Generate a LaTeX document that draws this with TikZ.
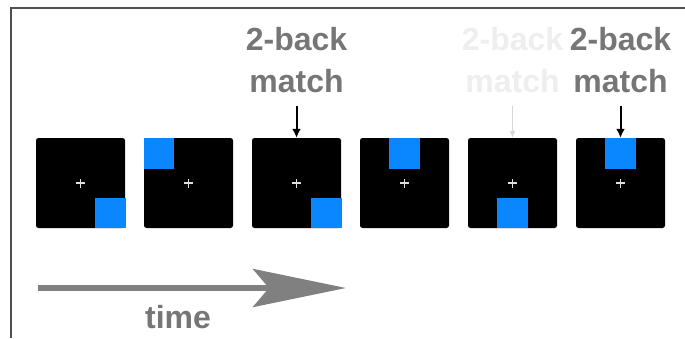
\documentclass[tikz,border=0pt]{standalone}
\usepackage{fontspec}
\setmainfont{Liberation Sans}
\usetikzlibrary{arrows.meta}
\definecolor{stimblue}{RGB}{10,134,255}
\definecolor{labgray}{RGB}{118,118,118}
\definecolor{fadegray}{RGB}{238,238,238}
\definecolor{arrgray}{RGB}{128,128,128}
\definecolor{framegray}{RGB}{80,80,80}
\tikzset{
  screen/.style={fill=black, draw=none, rounded corners=2.5pt, minimum width=89pt, minimum height=90pt, inner sep=0pt},
  target/.style={fill=stimblue, draw=none},
  fixcross/.style={draw=white!88!black, line width=1.1pt},
  matchlabel/.style={text=labgray, font=\bfseries\fontsize{32}{42}\selectfont, align=center, inner sep=0pt, anchor=north},
  fadelabel/.style={matchlabel, text=fadegray},
  cue/.style={draw=black, line width=2pt, -{Latex[length=9pt,width=9pt]}, shorten <=13pt},
  fadecue/.style={draw=fadegray!90!black, line width=1.2pt, -{Latex[length=7pt,width=6pt]}, shorten <=13pt},
  timearrow/.style={draw=arrgray, line width=5.5pt, -{Stealth[length=93pt,width=38pt,inset=16pt]}, color=arrgray},
  timelabel/.style={text=labgray, font=\bfseries\fontsize{32}{38}\selectfont, inner sep=0pt, anchor=base}
}
\begin{document}
\begin{tikzpicture}[x=1pt,y=-1pt]
\useasboundingbox (0,0) rectangle (685,338);
\fill[white] (0,0) rectangle (685,338);
% screenshot frame
\draw[framegray, line width=1.5pt] (11,338) -- (11,8) -- (685,8);

% screens
\foreach \i/\cx in {1/80.5,2/188.5,3/296.5,4/404.5,5/512.5,6/620.5}{
  \node[screen] (s\i) at (\cx,183) {};
}
% blue targets
\fill[target] (95,198) rectangle (125.5,228);
\fill[target] (144,138) rectangle (174,169);
\fill[target] (311,198) rectangle (341.5,228);
\fill[target] (389,138) rectangle (419.5,169);
\fill[target] (497,198) rectangle (527.5,228);
\fill[target] (605,138) rectangle (635.5,169);
% fixation crosses
\foreach \i in {1,...,6}{
  \draw[fixcross] ([xshift=-4.5pt]s\i.center) -- ([xshift=4.5pt]s\i.center);
  \draw[fixcross] ([yshift=-4.5pt]s\i.center) -- ([yshift=4.5pt]s\i.center);
}

% labels
\node[matchlabel] (l3) at (296.5,27) {2-back\\match};
\node[fadelabel] (l5) at (512.5,27) {2-back\\match};
\node[matchlabel] (l6) at (620.5,27) {2-back\\match};
\draw[cue] (l3.south) -- (s3.north);
\draw[fadecue] (l5.south) -- (s5.north);
\draw[cue] (l6.south) -- (s6.north);

% time arrow
\coordinate (t0) at (38,288);
\coordinate (t1) at (346,288);
\draw[timearrow] (t0) -- (t1);
\node[timelabel] (tl) at (178,328) {time};
\end{tikzpicture}
\end{document}
